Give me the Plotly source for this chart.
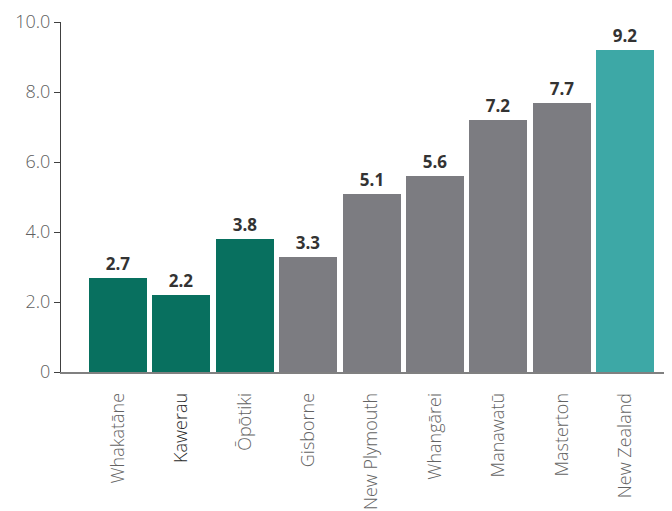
import plotly.graph_objects as go

categories = ["Whakatāne", "Kawerau", "Ōpōtiki", "Gisborne", "New Plymouth",
              "Whangārei", "Manawatū", "Masterton", "New Zealand"]
values = [2.7, 2.2, 3.8, 3.3, 5.1, 5.6, 7.2, 7.7, 9.2]
groups = ["focus", "focus", "focus", "compare", "compare", "compare", "compare", "compare", "national"]
group_colors = {"focus": "#08705F", "compare": "#7C7C81", "national": "#3DA8A6"}
y_tick_vals = [0, 2, 4, 6, 8, 10]
y_tick_text = ["0", "2.0", "4.0", "6.0", "8.0", "10.0"]

colors = [group_colors[g] for g in groups]
x_idx = list(range(len(categories)))
tick_labels = [f"<span style='color:#2a2a2a'>{c}</span>" if c == "Kawerau" else c
               for c in categories]

fig = go.Figure(go.Bar(
    x=x_idx, y=values, width=0.915,
    marker=dict(color=colors, line=dict(width=0)),
    text=[f"{v:.1f}" for v in values], textposition="outside",
    textfont=dict(family="Open Sans", size=17, color="#333333"),
    texttemplate="<b>%{text}</b>", cliponaxis=False,
))

fig.update_layout(
    width=672, height=511,
    margin=dict(l=53, r=13, t=14, b=147, autoexpand=False),
    paper_bgcolor="white", plot_bgcolor="white",
    showlegend=False, bargap=0,
    font=dict(family="Open Sans", color="#595959"),
)
# small end tick at the right end of the category axis
fig.add_shape(type="line", xref="x domain", yref="y domain",
              x0=1, x1=1, y0=0, y1=0.026,
              line=dict(color="#707070", width=1.5))
fig.update_xaxes(
    tickmode="array", tickvals=x_idx, ticktext=tick_labels,
    tickangle=-90, range=[-0.9, 8.66], automargin=False,
    tickfont=dict(family="Open Sans", size=18, color="#636363", weight=300),
    ticklabelstandoff=12,
    showline=True, linecolor="#808080", linewidth=1.5,
    ticks="", showgrid=False, zeroline=False,
)
fig.update_yaxes(
    range=[0, 10], tickmode="array", tickvals=y_tick_vals, ticktext=y_tick_text,
    automargin=False,
    tickfont=dict(family="Open Sans", size=18, color="#606060", weight=300),
    showline=True, linecolor="#404040", linewidth=1.2,
    ticks="outside", ticklen=6, tickcolor="#404040",
    showgrid=False, zeroline=False,
)

fig.write_html("out.html")
